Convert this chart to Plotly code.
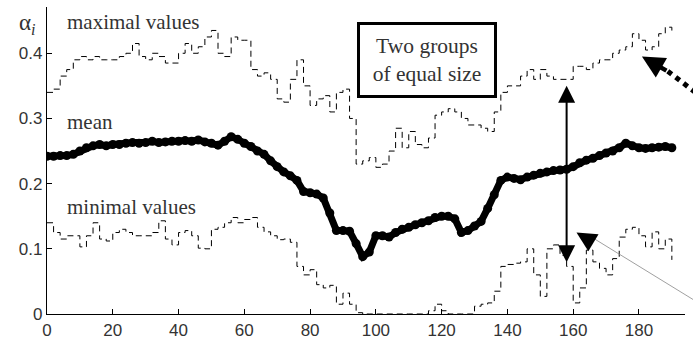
import plotly.graph_objects as go

x_vals = list(range(0, 191, 2))

max_vals = [0.34, 0.345, 0.365, 0.375, 0.39, 0.395, 0.39, 0.395, 0.39, 0.39,
            0.39, 0.395, 0.40, 0.415, 0.395, 0.39, 0.40, 0.395, 0.385, 0.385,
            0.40, 0.415, 0.40, 0.41, 0.425, 0.435, 0.40, 0.395, 0.425, 0.42,
            0.42, 0.375, 0.365, 0.37, 0.36, 0.33, 0.325, 0.36, 0.39, 0.35,
            0.32, 0.33, 0.335, 0.31, 0.34, 0.345, 0.30, 0.23, 0.235, 0.24,
            0.225, 0.23, 0.25, 0.285, 0.255, 0.28, 0.26, 0.255, 0.27, 0.305,
            0.31, 0.315, 0.31, 0.30, 0.29, 0.29, 0.285, 0.28, 0.31, 0.34,
            0.35, 0.35, 0.365, 0.375, 0.36, 0.375, 0.365, 0.36, 0.36, 0.36,
            0.38, 0.38, 0.375, 0.385, 0.39, 0.39, 0.40, 0.405, 0.41, 0.43,
            0.42, 0.405, 0.41, 0.43, 0.44, 0.43]

mean_vals = [0.242, 0.242, 0.243, 0.243, 0.245, 0.25, 0.255, 0.258, 0.26, 0.258,
             0.26, 0.26, 0.262, 0.263, 0.262, 0.263, 0.265, 0.263, 0.264, 0.265,
             0.265, 0.266, 0.265, 0.267, 0.264, 0.262, 0.259, 0.265, 0.272, 0.268,
             0.262, 0.257, 0.25, 0.245, 0.235, 0.226, 0.218, 0.212, 0.205, 0.188,
             0.186, 0.184, 0.178, 0.155, 0.128, 0.128, 0.127, 0.108, 0.088, 0.095,
             0.12, 0.12, 0.118, 0.125, 0.13, 0.133, 0.137, 0.14, 0.143, 0.148,
             0.15, 0.15, 0.146, 0.125, 0.128, 0.135, 0.142, 0.162, 0.183, 0.205,
             0.21, 0.208, 0.206, 0.21, 0.213, 0.216, 0.218, 0.22, 0.221, 0.222,
             0.226, 0.232, 0.236, 0.239, 0.243, 0.247, 0.25, 0.255, 0.262, 0.258,
             0.255, 0.254, 0.255, 0.256, 0.257, 0.255]

min_vals = [0.14, 0.125, 0.115, 0.12, 0.12, 0.103, 0.12, 0.14, 0.115, 0.112,
            0.125, 0.13, 0.125, 0.12, 0.12, 0.12, 0.125, 0.143, 0.115, 0.106,
            0.125, 0.128, 0.12, 0.101, 0.1, 0.13, 0.133, 0.14, 0.148, 0.14,
            0.145, 0.148, 0.133, 0.126, 0.12, 0.114, 0.115, 0.11, 0.073, 0.06,
            0.068, 0.045, 0.04, 0.044, 0.015, 0.032, 0.015, 0.002, 0.0, 0.0,
            0.0, 0.0, 0.0, 0.0, 0.0, 0.0, 0.0, 0.0, 0.005, 0.015,
            0.005, 0.0, 0.0, 0.0, 0.0, 0.012, 0.015, 0.017, 0.035, 0.073,
            0.076, 0.078, 0.08, 0.1, 0.06, 0.027, 0.1, 0.106, 0.09, 0.073,
            0.017, 0.04, 0.098, 0.08, 0.07, 0.06, 0.085, 0.118, 0.13, 0.133,
            0.12, 0.103, 0.126, 0.1, 0.115, 0.083]

x_ticks = [0, 20, 40, 60, 80, 100, 120, 140, 160, 180]
x_ticktext = [str(v) for v in x_ticks]
y_ticks = [0, 0.1, 0.2, 0.3, 0.4]
y_ticktext = ["0", "0.1", "0.2", "0.3", "0.4"]

serif = "Liberation Serif, Times New Roman, serif"
sans = "Liberation Sans, Arial, sans-serif"
txt_col = "#333333"

fig = go.Figure()
fig.add_trace(go.Scatter(x=x_vals, y=max_vals, mode="lines", line_shape="hv",
                         line=dict(color="black", width=1, dash="6px,4px"),
                         showlegend=False, hoverinfo="skip"))
fig.add_trace(go.Scatter(x=x_vals, y=min_vals, mode="lines", line_shape="hv",
                         line=dict(color="black", width=1, dash="6px,4px"),
                         showlegend=False, hoverinfo="skip"))
fig.add_trace(go.Scatter(x=x_vals, y=mean_vals, mode="lines+markers",
                         line=dict(color="black", width=7),
                         marker=dict(color="black", size=9),
                         showlegend=False))

annotations = [
    dict(text="maximal values", x=0.028, y=0.952, xref="paper", yref="paper",
         xanchor="left", yanchor="middle", showarrow=False,
         font=dict(family=serif, size=21, color=txt_col)),
    dict(text="mean", x=0.028, y=0.624, xref="paper", yref="paper",
         xanchor="left", yanchor="middle", showarrow=False,
         font=dict(family=serif, size=21, color=txt_col)),
    dict(text="minimal values", x=0.028, y=0.347, xref="paper", yref="paper",
         xanchor="left", yanchor="middle", showarrow=False,
         font=dict(family=serif, size=21, color=txt_col)),
    dict(text="α<sub><i>i</i></sub>", x=-0.03, y=0.945, xref="paper", yref="paper",
         xanchor="center", yanchor="middle", showarrow=False,
         font=dict(family=serif, size=23, color=txt_col)),
    dict(text="Two groups<br>of equal size", x=0.595, y=0.826, xref="paper", yref="paper",
         xanchor="center", yanchor="middle", showarrow=False,
         width=128, height=64, borderwidth=3, bordercolor="black", borderpad=3,
         bgcolor="white", font=dict(family=serif, size=21.5, color=txt_col)),
    # double-headed arrow between groups
    dict(text="", x=158, y=0.35, ax=158, ay=0.077, xref="x", yref="y",
         axref="x", ayref="y", showarrow=True, arrowhead=2, arrowside="end+start",
         arrowsize=1.7, arrowwidth=2, arrowcolor="black"),
    # thick arrow head at the upper right
    dict(text="", x=180.9, y=0.395, ax=26, ay=15, xref="x", yref="y",
         showarrow=True, arrowhead=2, arrowsize=1.0, arrowwidth=4.5, arrowcolor="black"),
    # small arrow head at the lower right
    dict(text="", x=161, y=0.125, ax=10, ay=6, xref="x", yref="y",
         showarrow=True, arrowhead=2, arrowsize=1.8, arrowwidth=2.2, arrowcolor="black"),
]

shapes = [
    dict(type="line", xref="paper", yref="paper", x0=0.973, y0=0.791, x1=1.03, y1=0.70,
         line=dict(color="black", width=5, dash="dot")),
    dict(type="line", xref="paper", yref="paper", x0=0.85, y0=0.255, x1=1.03, y1=0.025,
         line=dict(color="#888888", width=0.8)),
]

fig.update_layout(
    width=693, height=347,
    margin=dict(l=47, r=8, t=7, b=29),
    paper_bgcolor="white", plot_bgcolor="white",
    annotations=annotations, shapes=shapes,
    xaxis=dict(range=[0, 194], tickvals=x_ticks, ticktext=x_ticktext,
               ticks="inside", ticklen=5, tickcolor="black", showline=True,
               linecolor="black", linewidth=1.2, showgrid=False, zeroline=False,
               tickfont=dict(family=sans, size=17, color=txt_col)),
    yaxis=dict(range=[0, 0.471], tickvals=y_ticks, ticktext=y_ticktext,
               ticks="inside", ticklen=5, tickcolor="black", showline=True,
               linecolor="black", linewidth=1.2, showgrid=False, zeroline=False,
               tickfont=dict(family=sans, size=17, color=txt_col)),
)

fig.write_html("out.html")
